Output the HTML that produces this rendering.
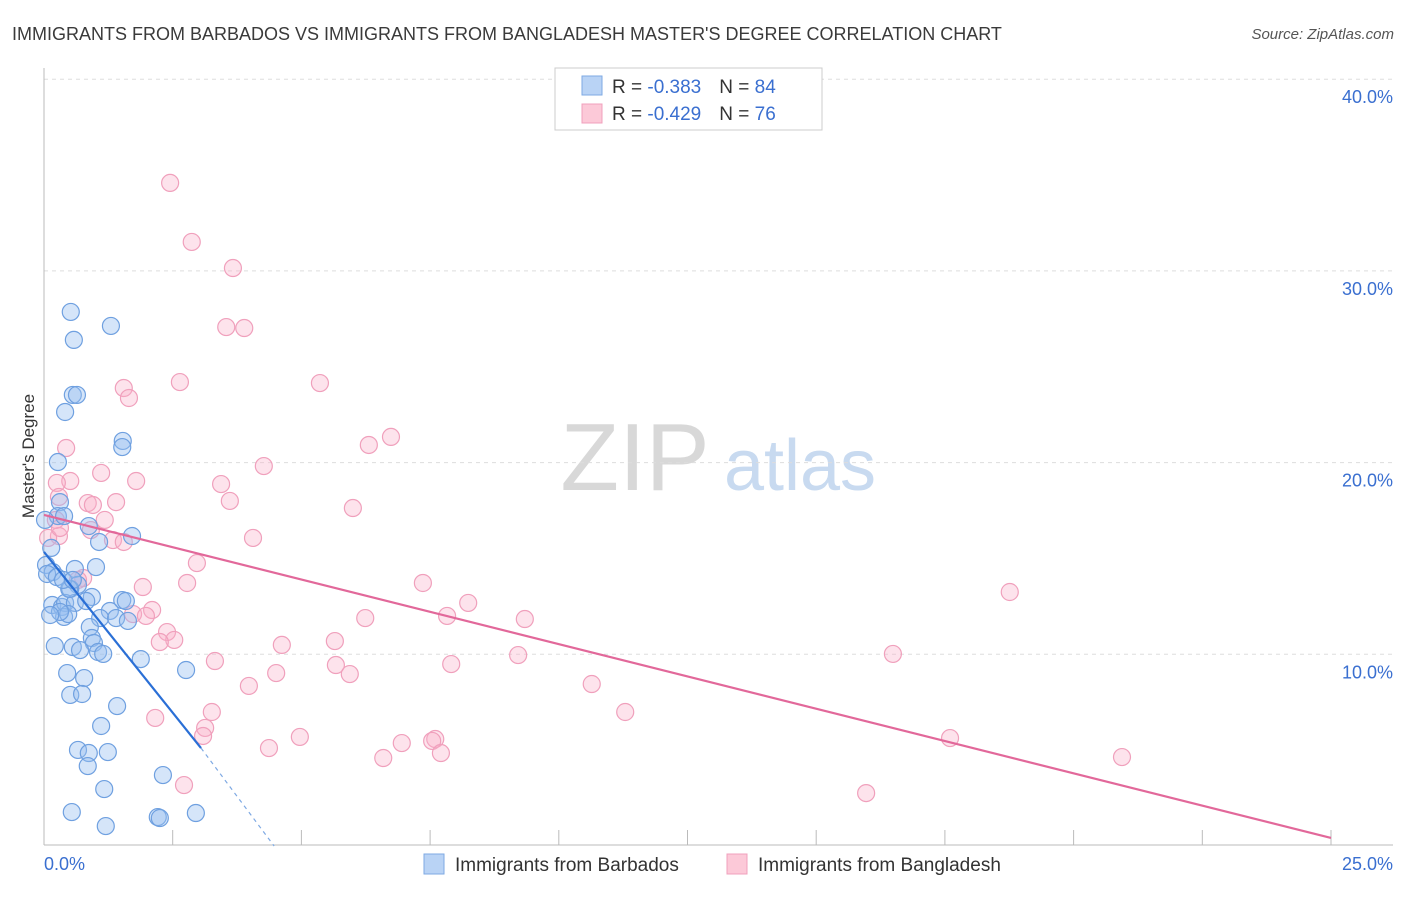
<!DOCTYPE html>
<html><head><meta charset="utf-8"><style>
body{margin:0;background:#fff;font-family:"Liberation Sans",sans-serif;}
svg text{font-family:"Liberation Sans",sans-serif;}
</style></head><body>
<svg id="chart" width="1406" height="892" viewBox="0 0 1406 892" xmlns="http://www.w3.org/2000/svg">
<text x="12" y="40" font-size="18" fill="#3a3a3a">IMMIGRANTS FROM BARBADOS VS IMMIGRANTS FROM BANGLADESH MASTER'S DEGREE CORRELATION CHART</text>
<text x="1394" y="39" font-size="15" fill="#555" text-anchor="end" font-style="italic">Source: ZipAtlas.com</text>
<text transform="translate(34,456) rotate(-90)" font-size="17" fill="#333" text-anchor="middle">Master's Degree</text>
<g>
<text x="635" y="490" font-size="96" fill="#d8d8d8" font-family="Liberation Serif" text-anchor="middle">ZIP</text>
<text x="800" y="490" font-size="72" fill="#c8daf0" text-anchor="middle">atlas</text>
</g>
<g id="grid"></g><g id="axes"></g><g id="pts"></g><g id="lines"></g>
<g>
<rect x="555" y="68" width="267" height="62" fill="#fff" stroke="#ccc"/>
<rect x="582" y="76" width="20" height="19" fill="#b9d3f5" stroke="#7ea9e3"/>
<rect x="582" y="104" width="20" height="19" fill="#fcc9d8" stroke="#f0a0bc"/>
<text x="612" y="93" font-size="19" fill="#333">R = <tspan fill="#3a6fd0">-0.383</tspan><tspan dx="18">N = </tspan><tspan fill="#3a6fd0">84</tspan></text>
<text x="612" y="120" font-size="19" fill="#333">R = <tspan fill="#3a6fd0">-0.429</tspan><tspan dx="18">N = </tspan><tspan fill="#3a6fd0"> 76</tspan></text>
</g>
<g>
<rect x="424" y="854" width="20" height="20" fill="#b9d3f5" stroke="#7ea9e3"/>
<text x="455" y="871" font-size="19" fill="#333">Immigrants from Barbados</text>
<rect x="727" y="854" width="20" height="20" fill="#fcc9d8" stroke="#f0a0bc"/>
<text x="758" y="871" font-size="19" fill="#333">Immigrants from Bangladesh</text>
</g>
<text x="44" y="870" font-size="18" fill="#3a6fd0">0.0%</text>
<text x="1393" y="870" font-size="18" fill="#3a6fd0" text-anchor="end">25.0%</text>
</svg>
<script>
const yTicks=[10,20,30,40];
const yTickLabels=["10.0%","20.0%","30.0%","40.0%"];
const xTicks=[0,2.5,5,7.5,10,12.5,15,17.5,20,22.5,25];
const barbadosX=[0.52,1.30,0.58,0.56,0.64,0.41,1.53,1.52,0.27,0.31,0.27,0.39,0.02,0.87,1.71,1.07,0.14,0.04,0.17,1.01,0.60,0.66,0.06,0.25,0.51,0.93,1.52,1.59,0.16,0.35,0.41,0.60,0.82,1.28,1.09,1.40,1.63,0.39,0.47,0.89,0.93,0.97,0.56,0.70,0.21,1.05,1.15,1.88,2.76,0.45,0.78,0.51,0.74,1.42,1.11,0.66,1.24,0.87,0.85,2.31,1.17,0.54,2.95,2.21,2.25,1.20,0.49,0.31,0.12,0.37,0.56];
const barbadosY=[27.86,27.13,26.40,23.53,23.53,22.64,21.13,20.81,20.03,17.94,17.21,17.21,17.01,16.69,16.17,15.86,15.55,14.66,14.29,14.55,14.45,13.62,14.19,14.03,13.41,12.99,12.83,12.78,12.57,12.47,12.68,12.68,12.78,12.26,11.89,11.89,11.74,11.95,12.10,11.42,10.85,10.59,10.38,10.22,10.43,10.12,10.02,9.75,9.18,9.02,8.76,7.88,7.93,7.30,6.26,5.01,4.90,4.85,4.17,3.70,2.97,1.77,1.72,1.51,1.46,1.04,13.41,12.21,12.05,13.88,13.88];
const bangladeshX=[2.45,2.87,3.67,3.54,3.89,1.55,1.65,2.64,5.36,6.74,6.31,0.43,4.27,1.11,0.51,0.25,3.44,1.79,3.61,0.29,0.85,0.95,1.40,6.00,4.06,1.18,0.29,0.08,1.34,1.55,0.91,1.92,0.76,2.97,2.78,7.36,2.10,2.39,1.73,1.98,2.53,2.25,4.62,5.65,5.67,5.94,8.24,7.83,9.34,6.24,7.91,9.21,4.51,3.98,3.32,10.64,11.29,18.76,16.49,2.16,3.26,3.13,3.09,4.37,4.97,6.95,6.59,7.60,7.54,7.71,17.60,20.94,2.72,15.97,0.66,0.23,0.31];
const bangladeshY=[34.59,31.51,30.15,27.07,27.02,23.89,23.37,24.20,24.15,21.34,20.92,20.76,19.82,19.46,19.04,18.94,18.88,19.04,18.00,18.21,17.89,17.79,17.94,17.63,16.07,17.01,16.17,16.07,15.96,15.86,16.48,13.51,13.98,14.76,13.72,13.72,12.31,11.16,12.10,12.00,10.75,10.64,10.49,10.69,9.44,8.97,12.68,12.00,11.84,11.89,9.49,9.96,9.02,8.35,9.65,8.45,6.99,13.25,10.02,6.68,6.99,6.16,5.74,5.11,5.69,5.37,4.59,5.58,5.48,4.85,5.63,4.64,3.18,2.76,13.88,17.01,16.59];
const barbadosTrend=[[0,15.34],[3.05,5.11]];
const barbadosTrendDash=[[3.05,5.11],[4.47,0]];
const bangladeshTrend=[[0,17.27],[25,0.42]];
const NS="http://www.w3.org/2000/svg";
const X0=44,XW=1287/25,Y0=846,YH=19.17;
const sx=v=>X0+v*XW, sy=v=>Y0-v*YH;
function mk(tag,attrs,parent){const e=document.createElementNS(NS,tag);for(const k in attrs)e.setAttribute(k,attrs[k]);parent.appendChild(e);return e;}
const grid=document.getElementById('grid'),axes=document.getElementById('axes'),pts=document.getElementById('pts'),lines=document.getElementById('lines');
yTicks.forEach((t,i)=>{
  const l=mk('line',{x1:X0,x2:1393,y1:sy(t),y2:sy(t),stroke:'#ddd','stroke-dasharray':'4,4'},grid);
  
  
  const tx=mk('text',{x:1393,y:sy(t)+24,'font-size':18,fill:'#3a6fd0','text-anchor':'end'},grid);
  tx.textContent=yTickLabels[i];
  
  
});
const ax=mk('line',{x1:X0,x2:1393,y1:845,y2:845,stroke:'#bbb'},axes);


const ay=mk('line',{x1:X0,x2:X0,y1:68,y2:845,stroke:'#bbb'},axes);


xTicks.forEach(t=>{
  const l=mk('line',{x1:sx(t),x2:sx(t),y1:830,y2:845,stroke:'#bbb'},axes);
  
  
});
function drawPts(xs,ys,fill,stroke,name){
  xs.forEach((x,i)=>{
    const c=mk('circle',{cx:sx(x),cy:sy(ys[i]),r:8.5,fill:fill,stroke:stroke,'stroke-width':1.2},pts);
    
    
  });
}
drawPts(bangladeshX,bangladeshY,'rgba(248,175,200,0.35)','#f0a0bc','point-bangladesh');
drawPts(barbadosX,barbadosY,'rgba(150,190,240,0.4)','#6fa0e0','point-barbados');
function drawLine(p,stroke,w,dash,name){
  const l=mk('line',{x1:sx(p[0][0]),y1:sy(p[0][1]),x2:sx(p[1][0]),y2:sy(p[1][1]),stroke:stroke,'stroke-width':w},lines);
  if(dash)l.setAttribute('stroke-dasharray',dash);
  
  
}
drawLine(bangladeshTrend,'#e2689a',2.2,null,'trend-line-bangladesh');
drawLine(barbadosTrend,'#2a6fd6',2.2,null,'trend-line-barbados');
drawLine(barbadosTrendDash,'#7ea9e3',1.2,'4,4','trend-line-barbados-extension');
</script>
</body></html>
